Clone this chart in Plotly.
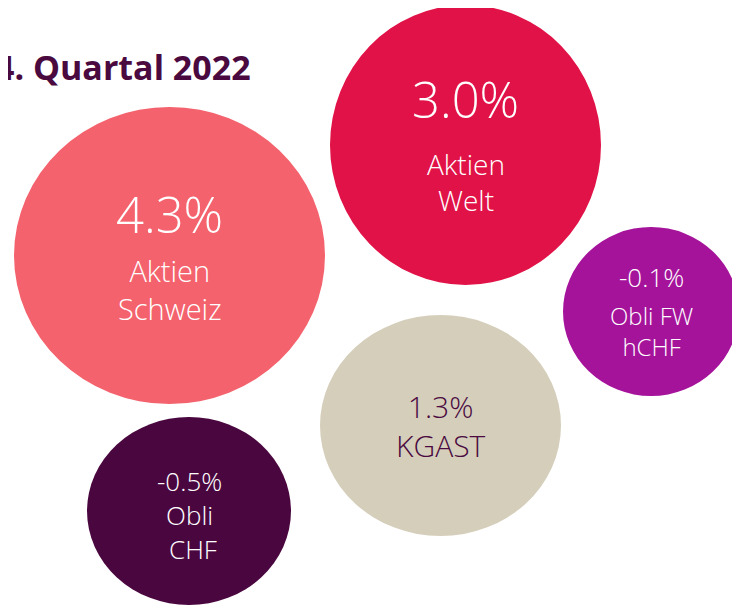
import plotly.graph_objects as go

# Daten: Rendite je Anlageklasse im 4. Quartal 2022
categories = ["Aktien Schweiz", "Aktien Welt", "Obli FW hCHF", "KGAST", "Obli CHF"]
returns = [4.3, 3.0, -0.1, 1.3, -0.5]
labels = ["Aktien<br>Schweiz", "Aktien<br>Welt", "Obli FW<br>hCHF", "KGAST", "Obli<br>&nbsp;CHF"]

# Anordnung der Blasen (Koordinatensystem = Seitenpixel)
bubble_x = [169.5, 465.5, 651, 440.5, 189]
bubble_y = [255.5, 145, 311.5, 425.5, 511]
bubble_rx = [155.5, 135.5, 88, 120.5, 102]
bubble_ry = [148.5, 140, 84.5, 110.5, 94]

colors = ["#F4626D", "#E11247", "#A5139B", "#D5CEBB", "#4A073F"]
text_colors = ["white", "white", "white", "#4A0A40", "white"]
value_sizes = [49, 49, 26, 30, 26]
label_sizes = [29, 28, 24, 30, 26]
# None = Wert und Bezeichnung in einem Textblock
value_dy = [-41.5, -46.5, -34.5, None, None]
label_dy = [33.5, 37, 19, 0, 4]

FONT = "Open Sans"
DARK = "#4A0A40"
PAD = 8  # Seitenrand des HTML-Body

fig = go.Figure()

# unsichtbare Spur, damit die Achsen existieren
fig.add_trace(go.Scatter(
    x=bubble_x, y=bubble_y, mode="markers",
    marker=dict(size=1, opacity=0),
    hovertext=[f"{c}: {v:.1f}%" for c, v in zip(categories, returns)],
    hoverinfo="text", showlegend=False
))

shapes = []
annotations = []
for i in range(len(categories)):
    shapes.append(dict(
        type="circle", xref="x", yref="y",
        x0=bubble_x[i] - bubble_rx[i], x1=bubble_x[i] + bubble_rx[i],
        y0=bubble_y[i] - bubble_ry[i], y1=bubble_y[i] + bubble_ry[i],
        fillcolor=colors[i], line=dict(width=0), layer="below"
    ))
    value_text = f"{returns[i]:.1f}%"
    if value_dy[i] is None:
        label_text = value_text + "<br>" + labels[i]
    else:
        label_text = labels[i]
        annotations.append(dict(
            x=bubble_x[i], y=bubble_y[i] + value_dy[i], xref="x", yref="y",
            text=value_text, showarrow=False,
            xanchor="center", yanchor="middle",
            font=dict(family=FONT, size=value_sizes[i], color=text_colors[i], weight=300)
        ))
    annotations.append(dict(
        x=bubble_x[i], y=bubble_y[i] + label_dy[i], xref="x", yref="y",
        text=label_text, showarrow=False,
        xanchor="center", yanchor="middle",
        font=dict(family=FONT, size=label_sizes[i], color=text_colors[i], weight=300)
    ))

# Titel (links angeschnitten wie im Original)
annotations.append(dict(
    x=253, y=67, xref="x", yref="y", text="<b>4. Quartal 2022</b>",
    showarrow=False, xanchor="right", yanchor="middle",
    font=dict(family=FONT, size=34, color=DARK)
))

fig.update_layout(
    width=740 - PAD, height=610 - PAD,
    margin=dict(l=0, r=0, t=0, b=0),
    paper_bgcolor="white", plot_bgcolor="white",
    xaxis=dict(range=[PAD, 740], visible=False, fixedrange=True),
    yaxis=dict(range=[610, PAD], visible=False, fixedrange=True),
    shapes=shapes,
    annotations=annotations,
    showlegend=False
)

fig.write_html("out.html")
